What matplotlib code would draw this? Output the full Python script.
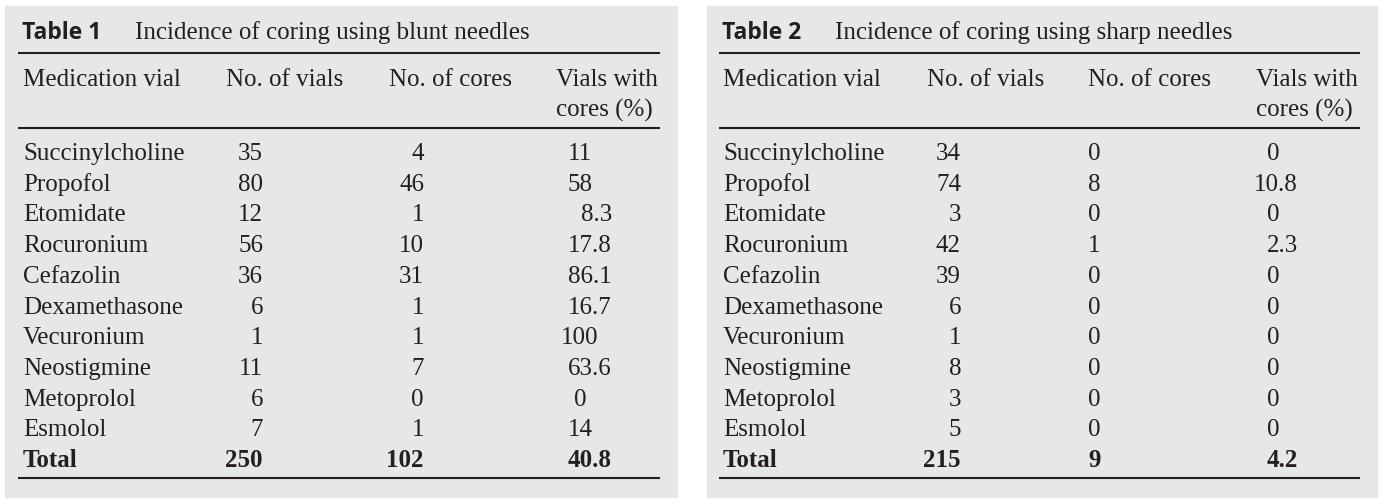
import matplotlib
matplotlib.use("Agg")
import matplotlib.pyplot as plt
from matplotlib.patches import Rectangle

# table contents
medications = ["Succinylcholine", "Propofol", "Etomidate", "Rocuronium", "Cefazolin",
               "Dexamethasone", "Vecuronium", "Neostigmine", "Metoprolol", "Esmolol"]

blunt_vials = ["35", "80", "12", "56", "36", "6", "1", "11", "6", "7"]
blunt_cores = ["4", "46", "1", "10", "31", "1", "1", "7", "0", "1"]
blunt_pct = ["11", "58", "8.3", "17.8", "86.1", "16.7", "100", "63.6", "0", "14"]
blunt_total = ["250", "102", "40.8"]

sharp_vials = ["34", "74", "3", "42", "39", "6", "1", "8", "3", "5"]
sharp_cores = ["0", "8", "0", "1", "0", "0", "0", "0", "0", "0"]
sharp_pct = ["0", "10.8", "0", "2.3", "0", "0", "0", "0", "0", "0"]
sharp_total = ["215", "9", "4.2"]

titles = ["Incidence of coring using blunt needles", "Incidence of coring using sharp needles"]
labels = ["Table 1", "Table 2"]
headers = ["Medication vial", "No. of vials", "No. of cores", "Vials with\ncores (%)"]

W, H = 1384, 504
fig = plt.figure(figsize=(W / 100, H / 100), dpi=100)
ax = fig.add_axes([0, 0, 1, 1])
ax.set_xlim(0, W)
ax.set_ylim(H, 0)
ax.axis("off")

ink = "#231f20"
panel = "#e6e7e8"
serif = "Liberation Serif"
fs = 18

# layout of each table: panel x, name x, vials right, cores (x, ha), pct int center, pct dec right, header x's
layouts = [
    dict(px=5, pw=672, lx0=18, lx1=660, name=23, vials=263, cores=(424, "right"),
         pint=580, pdec=612, hx=[23, 226, 389, 556], tl=22, tt=135),
    dict(px=707, pw=670, lx0=719, lx1=1360, name=723, vials=961, cores=(1088, "left"),
         pint=1273, pdec=1298, hx=[723, 927, 1088, 1256], tl=722, tt=835),
]
data = [(blunt_vials, blunt_cores, blunt_pct, blunt_total),
        (sharp_vials, sharp_cores, sharp_pct, sharp_total)]

row_y = [152 + 30.7 * i for i in range(11)]
base = 8  # baseline offset from row centre

for k, L in enumerate(layouts):
    vials, cores, pct, total = data[k]
    ax.add_patch(Rectangle((L["px"], 6), L["pw"], 491, color=panel, zorder=0))
    # title
    ax.text(L["tl"], 31 + 8, labels[k], family="Open Sans", weight="bold", fontsize=16.5,
            color=ink, va="baseline", ha="left")
    ax.text(L["tt"], 31 + 8, titles[k], family=serif, fontsize=fs, color=ink,
            va="baseline", ha="left")
    # rules
    for yy in (53, 128, 478):
        ax.plot([L["lx0"], L["lx1"]], [yy, yy], color=ink, lw=1.5, solid_capstyle="butt")
    # header
    for j, h in enumerate(headers):
        lines = h.split("\n")
        for m, line in enumerate(lines):
            ax.text(L["hx"][j], 78 + 31 * m + base, line, family=serif, fontsize=fs,
                    color=ink, va="baseline", ha="left")
    # body rows
    for i in range(len(medications)):
        y = row_y[i] + base
        ax.text(L["name"], y, medications[i], family=serif, fontsize=fs, color=ink,
                va="baseline", ha="left")
        ax.text(L["vials"], y, vials[i], family=serif, fontsize=fs, color=ink,
                va="baseline", ha="right")
        ax.text(L["cores"][0], y, cores[i], family=serif, fontsize=fs, color=ink,
                va="baseline", ha=L["cores"][1])
        if "." in pct[i]:
            ax.text(L["pdec"], y, pct[i], family=serif, fontsize=fs, color=ink,
                    va="baseline", ha="right")
        else:
            ax.text(L["pint"], y, pct[i], family=serif, fontsize=fs, color=ink,
                    va="baseline", ha="center")
    # total row
    y = row_y[10] + base
    ax.text(L["name"], y, "Total", family=serif, weight="bold", fontsize=fs, color=ink,
            va="baseline", ha="left")
    ax.text(L["vials"], y, total[0], family=serif, weight="bold", fontsize=fs, color=ink,
            va="baseline", ha="right")
    ax.text(L["cores"][0], y, total[1], family=serif, weight="bold", fontsize=fs, color=ink,
            va="baseline", ha=L["cores"][1])
    ax.text(L["pdec"], y, total[2], family=serif, weight="bold", fontsize=fs, color=ink,
            va="baseline", ha="right")

fig.savefig("out.png", dpi=100, facecolor="white")
